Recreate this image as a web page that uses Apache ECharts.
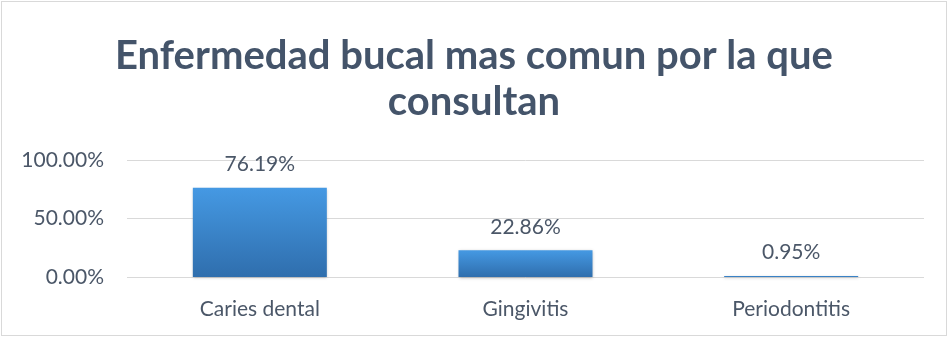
<!DOCTYPE html>
<html><head><meta charset="utf-8">
<script src="https://cdn.jsdelivr.net/npm/echarts@6/dist/echarts.min.js"></script>
<style>html,body{margin:0;padding:0;background:#fff}#c{position:absolute;left:1px;top:1px;width:946px;height:335px;border:1px solid #D9D9D9;box-sizing:border-box}</style>
</head><body><div id="c"></div>
<script>
const categories = ['Caries dental', 'Gingivitis', 'Periodontitis'];
const values = [76.19, 22.86, 0.95];
const yTicks = [0, 50, 100];
const titleText = 'Enfermedad bucal mas comun por la que\nconsultan';

const chart = echarts.init(document.getElementById('c'));
const txt = '#4B5768';
chart.setOption({
  animation: false,
  title: {
    text: titleText, left: 'center', top: 26,
    textStyle: {fontFamily: 'Lato', fontWeight: 'bold', fontSize: 40, color: '#44546A', lineHeight: 46}
  },
  grid: {left: 125, right: 22, top: 158, height: 117},
  xAxis: {
    type: 'category', data: categories,
    axisLine: {show: false}, axisTick: {show: false},
    axisLabel: {color: txt, fontFamily: 'Lato', fontSize: 21, margin: 22}
  },
  yAxis: {
    type: 'value', min: yTicks[0], max: yTicks[yTicks.length - 1], interval: 50,
    axisLine: {show: false}, axisTick: {show: false},
    axisLabel: {color: txt, fontFamily: 'Lato', fontSize: 21, margin: 23, formatter: v => v.toFixed(2) + '%'},
    splitLine: {lineStyle: {color: '#D9D9D9', width: 1}}
  },
  series: [{
    type: 'bar', data: values, barWidth: 134,
    itemStyle: {
      color: new echarts.graphic.LinearGradient(0, 0, 0, 1, [
        {offset: 0, color: '#4599E3'}, {offset: 1, color: '#2F6EAD'}
      ]),
      shadowColor: 'rgba(0,0,0,0.25)', shadowBlur: 3, shadowOffsetY: 1
    },
    label: {show: true, position: 'top', distance: 13, color: txt, fontFamily: 'Lato', fontSize: 21,
      formatter: p => p.value.toFixed(2) + '%'}
  }]
});
</script></body></html>
